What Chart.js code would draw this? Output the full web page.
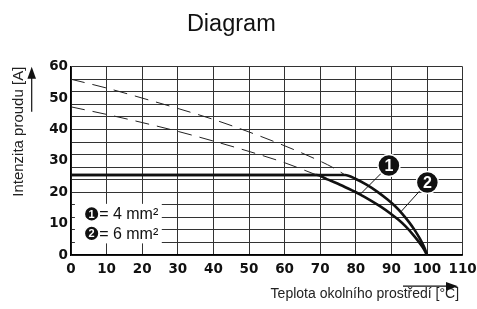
<!DOCTYPE html>
<html>
<head>
<meta charset="utf-8">
<script src="https://cdn.jsdelivr.net/npm/chart.js@4.4.0/dist/chart.umd.min.js"></script>
<style>
  html, body { margin: 0; padding: 0; background: #fff; }
</style>
</head>
<body>

<canvas id="myChart" width="477" height="309"></canvas>

<script>
// axis ticks
const xTicks = [0, 10, 20, 30, 40, 50, 60, 70, 80, 90, 100, 110];
const yTicks = [0, 10, 20, 30, 40, 50, 60];
const yGrid = [0, 4, 8, 12, 16, 20, 24, 28, 32, 36, 40, 44, 48, 52, 56, 60];

// curve 1 = 4 mm2, curve 2 = 6 mm2 (solid = rated, dashed = uncapped part)
const curve1Temp = [0, 69, 72, 75, 78, 81, 84, 87, 90, 92, 94, 96, 97.5, 98.7, 99.5, 100];
const curve1Amp  = [25.5, 25.5, 24.1, 22.7, 21.1, 19.4, 17.5, 15.4, 13.0, 11.2, 9.1, 6.6, 4.5, 2.6, 1.1, 0];
const curve2Temp = [0, 77, 80, 83, 86, 89, 91, 93, 95, 96.5, 98, 99, 99.6, 100];
const curve2Amp  = [25.5, 25.5, 24.2, 22.4, 20.2, 17.6, 15.6, 13.2, 10.4, 8.0, 5.2, 3.0, 1.4, 0];
const dashed1Temp = [0, 10, 20, 30, 40, 50, 60, 69];
const dashed1Amp  = [47.2, 44.8, 42.2, 39.4, 36.3, 33.0, 29.4, 25.5];
const dashed2Temp = [0, 10, 20, 30, 40, 50, 60, 70, 74, 77];
const dashed2Amp  = [56, 53.2, 50.0, 46.7, 43.2, 39.2, 34.8, 29.9, 27.6, 25.5];

const legendRows = ['= 4 mm\u00B2', '= 6 mm\u00B2'];

const pts = (xs, ys) => xs.map((x, i) => ({ x: x, y: ys[i] }));

const solidLine = (xs, ys) => ({
  data: pts(xs, ys),
  borderColor: '#111',
  borderWidth: 2.6,
  pointRadius: 0,
  fill: false,
  cubicInterpolationMode: 'monotone'
});
const dashLine = (xs, ys) => ({
  data: pts(xs, ys),
  borderColor: '#222',
  borderWidth: 1,
  borderDash: [14, 8],
  pointRadius: 0,
  fill: false,
  cubicInterpolationMode: 'monotone'
});

function badge(ctx, x, y, r, txt, size) {
  ctx.beginPath();
  ctx.arc(x, y, r, 0, Math.PI * 2);
  ctx.fillStyle = '#111';
  ctx.fill();
  ctx.lineWidth = 1.5;
  ctx.strokeStyle = '#fff';
  ctx.stroke();
  ctx.fillStyle = '#fff';
  ctx.font = 'bold ' + size + 'px "Liberation Sans"';
  ctx.textAlign = 'center';
  ctx.textBaseline = 'middle';
  ctx.fillText(txt, x, y + 1);
}

const overlay = {
  id: 'overlay',
  afterDraw(chart) {
    const ctx = chart.ctx;
    const xs = chart.scales.x, ys = chart.scales.y;
    const a = chart.chartArea;
    ctx.save();

    // legend box inside the plot
    const bx0 = xs.getPixelForValue(1.1), bx1 = xs.getPixelForValue(25.5);
    const by0 = ys.getPixelForValue(16.3), by1 = ys.getPixelForValue(3.7);
    ctx.fillStyle = '#fff';
    ctx.fillRect(bx0, by0, bx1 - bx0, by1 - by0);
    [13.1, 6.9].forEach((v, i) => {
      const cx = xs.getPixelForValue(5.8), cy = ys.getPixelForValue(v);
      badge(ctx, cx, cy, 7.3, String(i + 1), 11);
      ctx.fillStyle = '#111';
      ctx.font = '16px "Liberation Sans"';
      ctx.textAlign = 'left';
      ctx.textBaseline = 'middle';
      ctx.fillText(legendRows[i], cx + 7.5, cy + 1);
    });

    // leader lines and numbered markers
    const marks = [
      { c: [89.3, 28.5], t: [81.2, 19.3], n: '1' },
      { c: [100.1, 23.1], t: [92.6, 13.7], n: '2' }
    ];
    marks.forEach(m => {
      const cx = xs.getPixelForValue(m.c[0]), cy = ys.getPixelForValue(m.c[1]);
      ctx.beginPath();
      ctx.moveTo(cx, cy);
      ctx.lineTo(xs.getPixelForValue(m.t[0]), ys.getPixelForValue(m.t[1]));
      ctx.strokeStyle = '#111';
      ctx.lineWidth = 1;
      ctx.stroke();
      badge(ctx, cx, cy, 11, m.n, 16);
    });

    // axis arrows
    ctx.fillStyle = '#111';
    ctx.strokeStyle = '#111';
    ctx.lineWidth = 1.2;
    const ax = a.left - 39.3;
    ctx.beginPath();
    ctx.moveTo(ax, a.top + 45);
    ctx.lineTo(ax, a.top + 8);
    ctx.stroke();
    ctx.beginPath();
    ctx.moveTo(ax, a.top);
    ctx.lineTo(ax - 4.3, a.top + 12);
    ctx.lineTo(ax + 4.3, a.top + 12);
    ctx.closePath();
    ctx.fill();

    const ay = a.bottom + 31.2, ex = a.right - 4.6;
    ctx.beginPath();
    ctx.moveTo(ex - 55, ay);
    ctx.lineTo(ex - 8, ay);
    ctx.stroke();
    ctx.beginPath();
    ctx.moveTo(ex, ay);
    ctx.lineTo(ex - 12, ay - 4.3);
    ctx.lineTo(ex - 12, ay + 4.3);
    ctx.closePath();
    ctx.fill();

    ctx.restore();
  }
};

const tickFont = { family: 'DejaVu Sans', weight: 'bold', size: 13.5 };

const myChart = new Chart('myChart', {
  type: 'line',
  data: {
    datasets: [
      dashLine(dashed2Temp, dashed2Amp),
      dashLine(dashed1Temp, dashed1Amp),
      solidLine(curve2Temp, curve2Amp),
      solidLine(curve1Temp, curve1Amp)
    ]
  },
  options: {
    responsive: false,
    animation: false,
    layout: { padding: { left: 0, right: 14.4, top: 0, bottom: 0 } },
    plugins: {
      legend: { display: false },
      tooltip: { enabled: false },
      title: {
        display: true,
        text: 'Diagram',
        color: '#111',
        font: { family: 'Liberation Sans', size: 23.5, weight: 'normal' },
        padding: { top: 10, bottom: 28.5 }
      }
    },
    scales: {
      x: {
        type: 'linear',
        min: 0,
        max: 110,
        afterBuildTicks: s => { s.ticks = xTicks.map(v => ({ value: v })); },
        afterFit: s => { s.height = 54; s.paddingLeft = 0; s.paddingRight = 0; },
        ticks: { font: tickFont, color: '#111', padding: 6, autoSkip: false, maxRotation: 0 },
        grid: { color: '#333', lineWidth: 1, drawTicks: false },
        border: { color: '#000', width: 1.5 },
        title: {
          display: true,
          text: 'Teplota okolního prostředí [°C]\u2005',
          align: 'end',
          color: '#222',
          font: { family: 'Liberation Sans', size: 14 },
          padding: { top: 0, bottom: 6 }
        }
      },
      y: {
        min: 0,
        max: 60,
        afterBuildTicks: s => {
          const vals = Array.from(new Set(yGrid.concat(yTicks))).sort((p, q) => p - q);
          s.ticks = vals.map(v => ({ value: v }));
        },
        afterFit: s => { s.width = 71; s.paddingTop = 0; s.paddingBottom = 0; },
        ticks: {
          font: tickFont,
          color: '#111',
          padding: 3,
          autoSkip: false,
          callback: v => (yTicks.includes(v) ? v : '')
        },
        grid: {
          color: c => (c.tick && yGrid.includes(c.tick.value) ? '#333' : 'rgba(0,0,0,0)'),
          lineWidth: 1,
          drawTicks: false
        },
        border: { color: '#000', width: 1.5 },
        title: {
          display: true,
          text: 'Intenzita proudu [A]',
          align: 'end',
          color: '#222',
          font: { family: 'Liberation Sans', size: 15 },
          padding: { top: 10, bottom: 0 }
        }
      }
    }
  },
  plugins: [overlay]
});
</script>

</body>
</html>
